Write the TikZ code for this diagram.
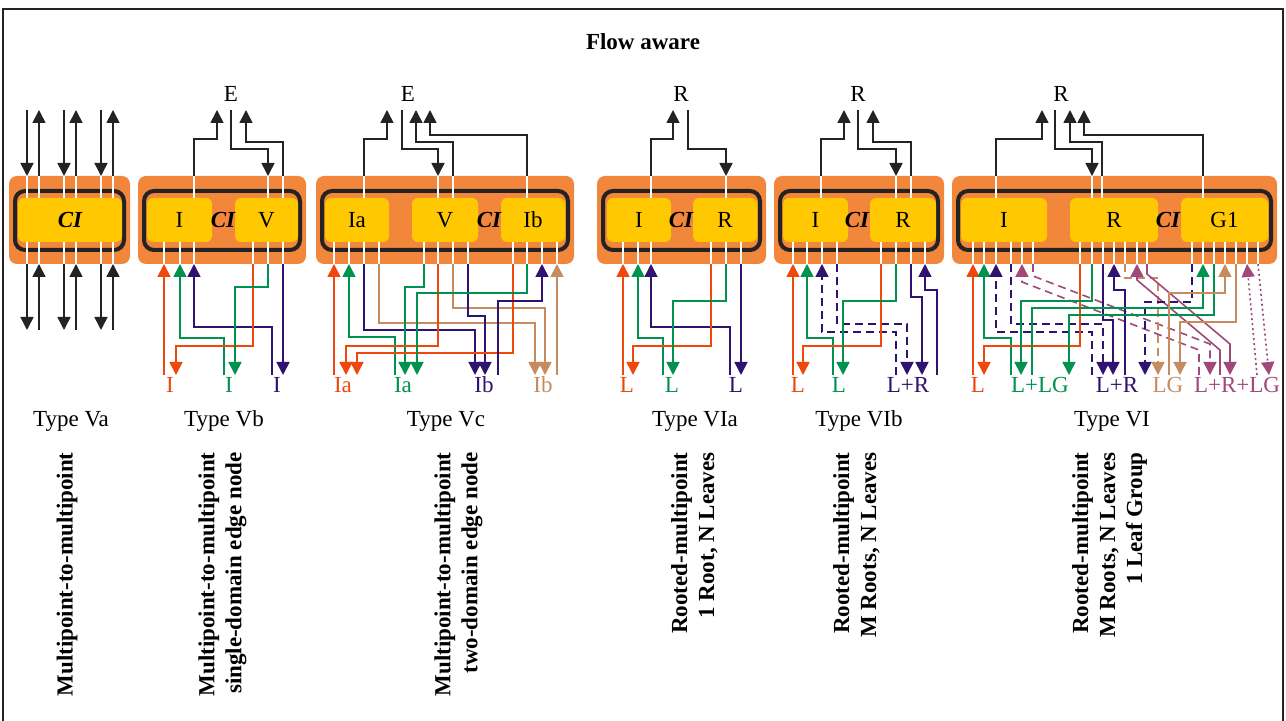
\documentclass[tikz,border=0pt]{standalone}
\usepackage{fontspec}
\setmainfont{Liberation Serif}
\usepackage{tikz}
\usetikzlibrary{arrows.meta}
\definecolor{myorange}{RGB}{242,134,58}
\definecolor{myyellow}{RGB}{255,200,0}
\definecolor{mydark}{RGB}{35,35,35}
\definecolor{myred}{RGB}{238,72,12}
\definecolor{mygreen}{RGB}{0,146,78}
\definecolor{mypurple}{RGB}{48,18,112}
\definecolor{mytan}{RGB}{198,140,96}
\definecolor{mymauve}{RGB}{160,72,122}
\tikzset{
  wire/.style={line width=0.8pt, mydark},
  arr/.style={-{Triangle[width=6.5pt,length=6.5pt]}},
  redw/.style={wire, myred},
  grnw/.style={wire, mygreen},
  purw/.style={wire, mypurple},
  tanw/.style={wire, mytan},
  mauw/.style={wire, mymauve},
  dashw/.style={dash pattern=on 4pt off 2.5pt},
  dotw/.style={dash pattern=on 1pt off 1.5pt},
  strip/.style={white, line width=1pt},
  ybox/.style={fill=myyellow, rounded corners=3pt, minimum height=22pt, inner sep=0pt},
  cilbl/.style={font=\fontsize{11.5}{13.5}\selectfont\bfseries\itshape},
  lbl/.style={anchor=base},
  vtext/.style={rotate=90, anchor=east, align=right, inner sep=0pt, font=\fontsize{11.5}{13.5}\selectfont\bfseries}
}
\newcommand{\cibox}[2]{%
  \fill[myorange, rounded corners=4pt] (#1,176) rectangle (#2,264);
  \draw[mydark, line width=2pt, rounded corners=5pt] (#1+6,191) rectangle (#2-6,250);}
\newcommand{\topstrips}[1]{\foreach \x in {#1} \draw[strip] (\x,176) -- (\x,198);}
\newcommand{\botstrips}[1]{\foreach \x in {#1} \draw[strip] (\x,242) -- (\x,264);}
\begin{document}
\begin{tikzpicture}[x=0.5pt, y=-0.5pt, font=\fontsize{11.5}{13.5}\selectfont]
  \useasboundingbox (0,0) rectangle (1286,721);
  \draw[mydark, line width=0.8pt] (3,9) rectangle (1283,740);
  \node[lbl, font=\fontsize{11.5}{13.5}\selectfont\bfseries] (title) at (643,50) {Flow aware};

  % Type Va
  \cibox{9}{130}
  \node[ybox, minimum width=52pt, cilbl] (ciVa) at (70,220) {CI};
  \topstrips{27,39,64,76,101,113}
  \botstrips{27,39,64,76,101,113}
  \foreach \x in {27,64,101} {
    \draw[wire, arr] (\x,110) -- (\x,176);
    \draw[wire, arr] (\x+12,176) -- (\x+12,110);
    \draw[wire, arr] (\x,264) -- (\x,330);
    \draw[wire, arr] (\x+12,330) -- (\x+12,264);
  }
  \node[lbl] (tVa) at (71,427) {Type Va};
  \node[vtext] (dVa) at (67,452) {Multipoint-to-multipoint};

  % Type Vb
  \cibox{138}{306}
  \node[ybox, minimum width=32.5pt] (iVb) at (179.5,220) {I};
  \node[ybox, minimum width=31.5pt] (vVb) at (266.5,220) {V};
  \node[cilbl] (ciVb) at (223,220) {CI};
  \topstrips{194,268,283}
  \botstrips{164,180,194,253,268,283}
  \node[lbl] (eVb) at (231,102) {E};
  \draw[wire, arr] (194,176) |- (217,139) -- (217,110);
  \draw[wire, arr] (231,110) |- (268,149) -- (268,176);
  \draw[wire, arr] (283,176) |- (246,142) -- (246,110);
  \draw[redw, arr] (164,375) -- (164,264);
  \draw[grnw, arr] (224,375) |- (180,338) -- (180,264);
  \draw[purw, arr] (272,375) |- (194,327) -- (194,264);
  \draw[redw, arr] (253,264) |- (176,346) -- (176,375);
  \draw[grnw, arr] (268,264) |- (235,287) -- (235,375);
  \draw[purw, arr] (283,264) -- (283,375);
  \node[lbl, text=myred] (lVb1) at (170,393) {I};
  \node[lbl, text=mygreen] (lVb2) at (229,393) {I};
  \node[lbl, text=mypurple] (lVb3) at (277,393) {I};
  \node[lbl] (tVb) at (224,427) {Type Vb};
  \node[vtext] (dVb) at (222.5,452) {Multipoint-to-multipoint\\single-domain edge node};

  % Type Vc
  \cibox{316}{574}
  \node[ybox, minimum width=32pt] (iaVc) at (357,220) {Ia};
  \node[ybox, minimum width=33pt] (vVc) at (445,220) {V};
  \node[ybox, minimum width=32pt] (ibVc) at (533,220) {Ib};
  \node[cilbl] (ciVc) at (489,220) {CI};
  \topstrips{364,438,453,527}
  \botstrips{334,349,364,379,424,438,453,468,513,527,542,557}
  \node[lbl] (eVc) at (408,102) {E};
  \draw[wire, arr] (364,176) |- (387,139) -- (387,110);
  \draw[wire, arr] (402,110) |- (438,149) -- (438,176);
  \draw[wire, arr] (453,176) |- (416,142) -- (416,110);
  \draw[wire, arr] (527,176) |- (430,135) -- (430,110);
  \draw[redw, arr] (334,375) -- (334,264);
  \draw[grnw, arr] (395,375) |- (349,337) -- (349,264);
  \draw[purw, arr] (364,264) |- (475,330) -- (475,375);
  \draw[tanw, arr] (379,264) |- (535,323) -- (535,375);
  \draw[grnw, arr] (424,264) |- (405,287) -- (405,375);
  \draw[redw, arr] (438,264) |- (346,346) -- (346,375);
  \draw[tanw, arr] (453,264) |- (545,308) -- (545,375);
  \draw[purw, arr] (468,264) |- (485,316) -- (485,375);
  \draw[redw, arr] (513,264) |- (357,353) -- (357,375);
  \draw[grnw, arr] (527,264) |- (417,293) -- (417,375);
  \draw[purw, arr] (498,375) |- (542,301) -- (542,264);
  \draw[tanw, arr] (557,375) -- (557,264);
  \node[lbl, text=myred] (lVc1) at (343,393) {Ia};
  \node[lbl, text=mygreen] (lVc2) at (403,393) {Ia};
  \node[lbl, text=mypurple] (lVc3) at (484,393) {Ib};
  \node[lbl, text=mytan] (lVc4) at (543,393) {Ib};
  \node[lbl] (tVc) at (446,427) {Type Vc};
  \node[vtext] (dVc) at (458.5,452) {Multipoint-to-multipoint\\two-domain edge node};

  % Type VIa
  \cibox{597}{766}
  \node[ybox, minimum width=32pt] (iVIa) at (639,220) {I};
  \node[ybox, minimum width=32pt] (rVIa) at (725,220) {R};
  \node[cilbl] (ciVIa) at (681,220) {CI};
  \topstrips{651,726}
  \botstrips{623,638,651,711,726,741}
  \node[lbl] (rootVIa) at (681,102) {R};
  \draw[wire, arr] (651,176) |- (673,139) -- (673,110);
  \draw[wire, arr] (688,110) |- (726,149) -- (726,176);
  \draw[redw, arr] (623,375) -- (623,264);
  \draw[grnw, arr] (663,375) |- (638,338) -- (638,264);
  \draw[purw, arr] (730,375) |- (651,327) -- (651,264);
  \draw[redw, arr] (711,264) |- (633,346) -- (633,375);
  \draw[grnw, arr] (726,264) |- (673,301) -- (673,375);
  \draw[purw, arr] (741,264) -- (741,375);
  \node[lbl, text=myred] (lVIa1) at (627,393) {L};
  \node[lbl, text=mygreen] (lVIa2) at (672,393) {L};
  \node[lbl, text=mypurple] (lVIa3) at (736,393) {L};
  \node[lbl] (tVIa) at (695,427) {Type VIa};
  \node[vtext] (dVIa) at (694.5,452) {Rooted-multipoint\\1 Root, N Leaves};

  % Type VIb
  \cibox{774}{944}
  \node[ybox, minimum width=32.5pt] (iVIb) at (815.5,220) {I};
  \node[ybox, minimum width=33pt] (rVIb) at (903,220) {R};
  \node[cilbl] (ciVIb) at (857,220) {CI};
  \topstrips{821,896,911}
  \botstrips{793,807,822,837,881,896,911,925}
  \node[lbl] (rootVIb) at (858,102) {R};
  \draw[wire, arr] (821,176) |- (844,139) -- (844,110);
  \draw[wire, arr] (858,110) |- (896,149) -- (896,176);
  \draw[wire, arr] (911,176) |- (873,142) -- (873,110);
  \draw[redw, arr] (793,375) -- (793,264);
  \draw[grnw, arr] (833,375) |- (807,338) -- (807,264);
  \draw[purw, dashw, arr] (896,375) |- (822,332) -- (822,264);
  \draw[purw, dashw, arr] (837,264) |- (907,324) -- (907,375);
  \draw[redw, arr] (881,264) |- (803,346) -- (803,375);
  \draw[grnw, arr] (896,264) |- (843,301) -- (843,375);
  \draw[purw, arr] (911,264) |- (922,297) -- (922,375);
  \draw[purw, arr] (937,375) |- (925,290) -- (925,264);
  \node[lbl, text=myred] (lVIb1) at (798,393) {L};
  \node[lbl, text=mygreen] (lVIb2) at (839,393) {L};
  \node[lbl, text=mypurple] (lVIb3) at (908,393) {L+R};
  \node[lbl] (tVIb) at (859,427) {Type VIb};
  \node[vtext] (dVIb) at (856.5,452) {Rooted-multipoint\\M Roots, N Leaves};

  % Type VI
  \cibox{952}{1277}
  \node[ybox, minimum width=43pt] (iVI) at (1004,220) {I};
  \node[ybox, minimum width=44pt] (rVI) at (1114,220) {R};
  \node[ybox, minimum width=43.5pt] (gVI) at (1224.5,220) {G1};
  \node[cilbl] (ciVI) at (1168,220) {CI};
  \topstrips{996,1092,1102,1203}
  \botstrips{973,984,996,1011,1022,1033,1080,1092,1103,1114,1125,1137,1147,1192,1203,1214,1225,1236,1247,1258}
  \node[lbl] (rootVI) at (1061,102) {R};
  \draw[wire, arr] (996,176) |- (1042,139) -- (1042,110);
  \draw[wire, arr] (1055,110) |- (1092,149) -- (1092,176);
  \draw[wire, arr] (1102,176) |- (1070,142) -- (1070,110);
  \draw[wire, arr] (1203,176) |- (1084,135) -- (1084,110);
  \draw[redw, arr] (973,375) -- (973,264);
  \draw[grnw, arr] (1011,375) |- (984,338) -- (984,264);
  \draw[purw, dashw, arr] (1092,375) |- (996,332) -- (996,264);
  \draw[purw, dashw, arr] (1011,264) |- (1103,324) -- (1103,375);
  \draw[mauw, dashw, arr] (1199,375) -- (1199,350) -- (1022,282) -- (1022,264);
  \draw[mauw, dashw, arr] (1033,264) -- (1033,276) -- (1210,344) -- (1210,375);
  \draw[redw, arr] (1080,264) |- (984,346) -- (984,375);
  \draw[grnw, arr] (1092,264) |- (1021,301) -- (1021,375);
  \draw[purw, arr] (1103,264) |- (1113,320) -- (1113,375);
  \draw[purw, arr] (1125,375) |- (1114,290) -- (1114,264);
  \draw[tanw, dashw, arr] (1125,264) |- (1158,278) -- (1158,375);
  \draw[mauw, arr] (1220,375) -- (1220,350) -- (1137,280) -- (1137,264);
  \draw[mauw, arr] (1147,264) -- (1147,274) -- (1230,344) -- (1230,375);
  \draw[purw, dashw, arr] (1192,264) |- (1145,302) -- (1145,375);
  \draw[grnw, arr] (1032,375) |- (1203,308) -- (1203,264);
  \draw[grnw, arr] (1214,264) |- (1069,315) -- (1069,375);
  \draw[tanw, arr] (1169,375) |- (1225,293) -- (1225,264);
  \draw[tanw, arr] (1236,264) |- (1180,322) -- (1180,375);
  \draw[mauw, dotw, arr] (1257,375) -- (1247,264);
  \draw[mauw, dotw, arr] (1258,264) -- (1269,375);
  \node[lbl, text=myred] (lVI1) at (978,393) {L};
  \node[lbl, text=mygreen] (lVI2) at (1040,393) {L+LG};
  \node[lbl, text=mypurple] (lVI3) at (1117,393) {L+R};
  \node[lbl, text=mytan] (lVI4) at (1168,393) {LG};
  \node[lbl, text=mymauve] (lVI5) at (1237,393) {L+R+LG};
  \node[lbl] (tVI) at (1112,427) {Type VI};
  \node[vtext] (dVI) at (1109.5,452) {Rooted-multipoint\\M Roots, N Leaves\\1 Leaf Group};
\end{tikzpicture}
\end{document}
